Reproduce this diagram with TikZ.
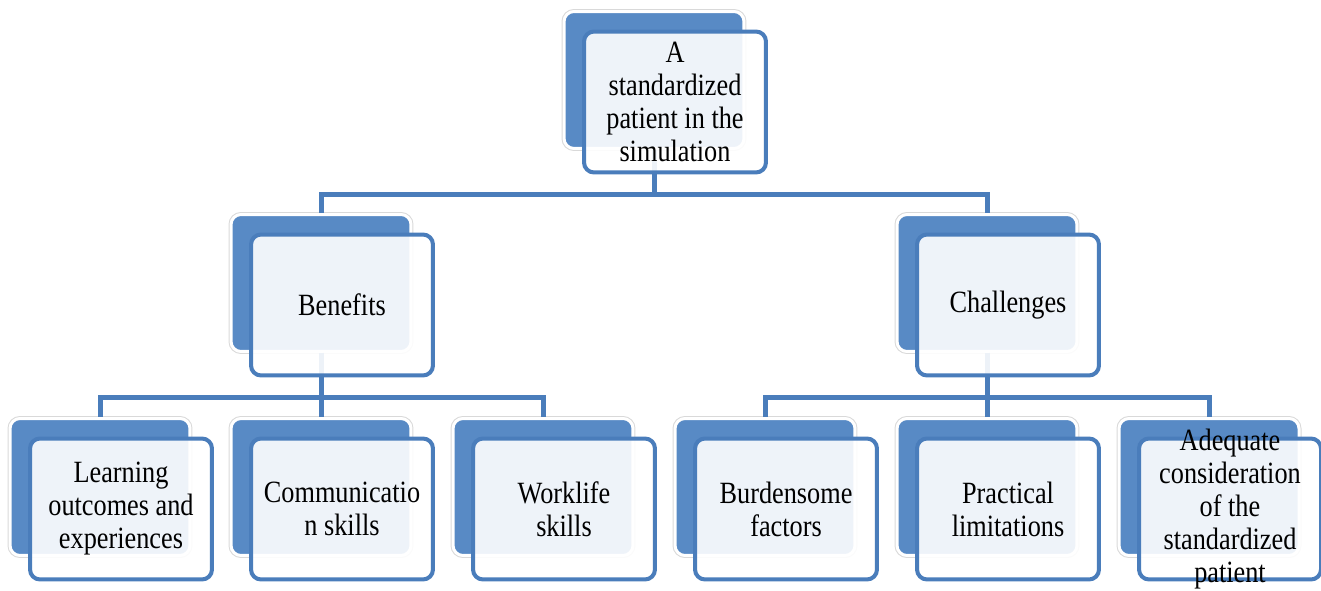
\documentclass[tikz,border=0pt]{standalone}
\usepackage{fontspec}
\setmainfont{Liberation Serif}[FakeStretch=0.85]
\definecolor{boxblue}{RGB}{88,138,197}
\definecolor{lineblue}{RGB}{74,125,187}
\tikzset{
  backbox/.style={rectangle, rounded corners=0.2cm, fill=boxblue, draw=white, line width=0.06cm,
    minimum width=3.6cm, minimum height=2.74cm, preaction={draw=black!15, line width=0.1cm}},
  frontbox/.style={rectangle, rounded corners=0.2cm, draw=lineblue, line width=0.08cm,
    fill=white, fill opacity=0.9, text opacity=1, minimum width=3.64cm, minimum height=2.82cm,
    align=center, inner sep=2pt, font=\fontsize{17.6}{18.8}\selectfont},
  link/.style={draw=lineblue, line width=0.1cm}
}
\begin{document}
\begin{tikzpicture}[x=0.02cm, y=-0.02cm]
        \useasboundingbox (0,0) rectangle (1321,591);

        % Back boxes
        \node[backbox] (topB) at (654,80) {};
        \node[backbox] (benB) at (321,283) {};
        \node[backbox] (chaB) at (987,283) {};
        \node[backbox] (learnB) at (100,487) {};
        \node[backbox] (commB) at (321,487) {};
        \node[backbox] (workB) at (543,487) {};
        \node[backbox] (burdB) at (765,487) {};
        \node[backbox] (pracB) at (987,487) {};
        \node[backbox] (adeqB) at (1209,487) {};

        % Connectors
        \draw[link] (topB.south) -- ++(0,45) -| (benB.north);
        \draw[link] (topB.south) -- ++(0,45) -| (chaB.north);
        \draw[link] (benB.south) -- ++(0,45) -| (learnB.north);
        \draw[link] (benB.south) -- ++(0,45) -| (commB.north);
        \draw[link] (benB.south) -- ++(0,45) -| (workB.north);
        \draw[link] (chaB.south) -- ++(0,45) -| (burdB.north);
        \draw[link] (chaB.south) -- ++(0,45) -| (pracB.north);
        \draw[link] (chaB.south) -- ++(0,45) -| (adeqB.north);

        % Front boxes with text
        \node[frontbox] (top) at ([shift={(21,22)}]topB.center) {A\\standardized\\patient in the\\simulation};
        \node[frontbox] (ben) at ([shift={(21,22)}]benB.center) {Benefits};
        \node[frontbox] (cha) at ([shift={(21,22)}]chaB.center) {Challenges};
        \node[frontbox] (learn) at ([shift={(21,22)}]learnB.center) {Learning\\outcomes and\\experiences};
        \node[frontbox] (comm) at ([shift={(21,22)}]commB.center) {Communicatio\\n skills};
        \node[frontbox] (work) at ([shift={(21,22)}]workB.center) {Worklife\\skills};
        \node[frontbox] (burd) at ([shift={(21,22)}]burdB.center) {Burdensome\\factors};
        \node[frontbox] (prac) at ([shift={(21,22)}]pracB.center) {Practical\\limitations};
        \node[frontbox, inner ysep=-0.3cm] (adeq) at ([shift={(21,22)}]adeqB.center) {Adequate\\consideration\\of the\\standardized\\patient};
    \end{tikzpicture}
\end{document}
